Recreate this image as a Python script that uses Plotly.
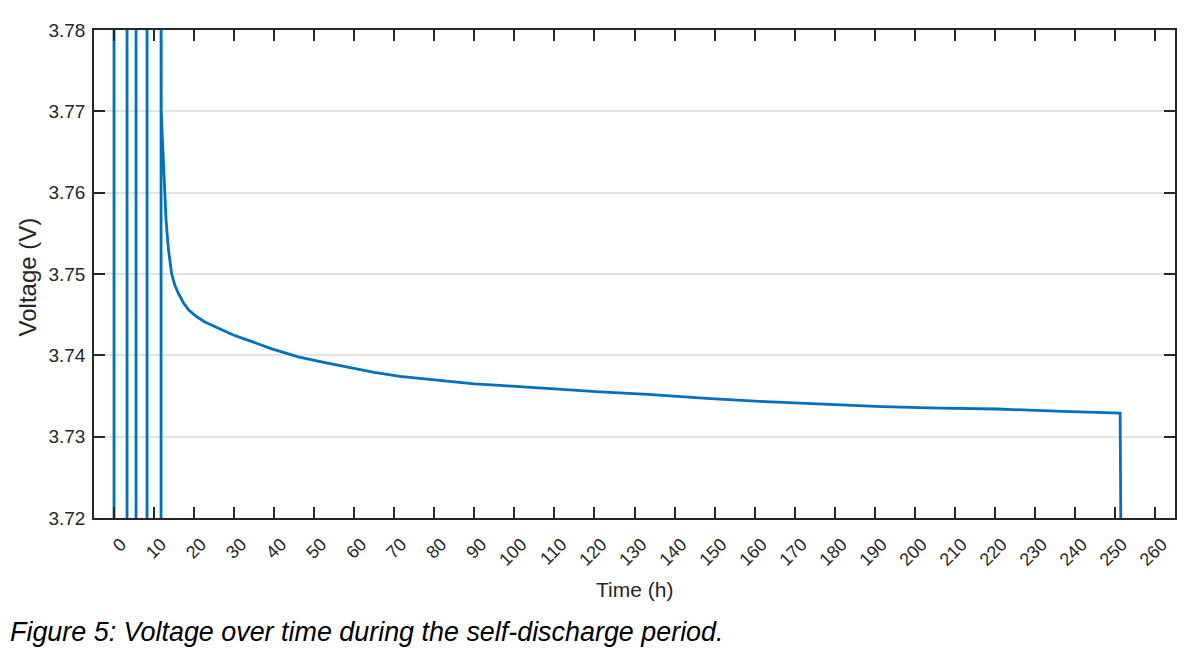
import plotly.graph_objects as go

# Pulse phase (vertical excursions beyond the axis range)
t_pulse = [0, 0, 3.25, 3.25, 5.5, 5.5, 8.25, 8.25, 11.75, 11.75]
v_pulse = [3.70, 3.80, 3.80, 3.70, 3.70, 3.80, 3.80, 3.70, 3.70, 3.80]

# Relaxation / self-discharge phase
t_rest = [11.8, 12.0, 12.3, 12.6, 13.0, 13.6, 14.4, 15.2, 16.1, 17.3, 18.6, 20.5,
          22.7, 24.8, 26.9, 29.8, 32.7, 36.0, 39.4, 42.7, 46.0, 52.7, 59.0, 65.0,
          71.4, 77.5, 83.9, 90.0, 96.4, 102.5, 108.9, 115.0, 121.4, 133.4, 148.0,
          162.6, 177.0, 191.7, 206.3, 220.5, 237.0, 251.3, 251.7]
v_rest = [3.7700, 3.7675, 3.7649, 3.7610, 3.7566, 3.7530, 3.7500, 3.7486, 3.7476,
          3.7465, 3.7456, 3.7448, 3.7441, 3.7436, 3.7431, 3.7425, 3.7420, 3.7414,
          3.7408, 3.7403, 3.7398, 3.7391, 3.7385, 3.7379, 3.7374, 3.7371, 3.7368,
          3.7365, 3.7363, 3.7361, 3.7359, 3.7357, 3.7355, 3.7352, 3.7347, 3.7343,
          3.7340, 3.7337, 3.7335, 3.7334, 3.7331, 3.7329, 3.7000]

x_ticks = list(range(0, 261, 10))
y_ticks = [3.72, 3.73, 3.74, 3.75, 3.76, 3.77, 3.78]

color = "#0072BD"
axis_col = "#262626"
FONT = "Liberation Sans, Arial, sans-serif"

fig = go.Figure()
fig.add_trace(go.Scatter(x=t_pulse + t_rest, y=v_pulse + v_rest, mode="lines",
                         line=dict(color=color, width=2.8), showlegend=False))

fig.update_layout(
    width=1200, height=669,
    margin=dict(l=86, r=33, t=22, b=159),
    paper_bgcolor="white", plot_bgcolor="white",
    font=dict(family=FONT, color=axis_col),
)
fig.update_xaxes(
    range=[-5, 265], tickvals=x_ticks, ticktext=[str(v) for v in x_ticks],
    tickangle=-45, ticks="inside", ticklen=11, tickwidth=1.5, tickcolor=axis_col,
    showline=True, linecolor=axis_col, linewidth=1.5, mirror="ticks",
    showgrid=False, zeroline=False, automargin=False,
    ticklabelstandoff=7, ticklabelshift=7,
    tickfont=dict(size=18, color=axis_col, family=FONT),
)
fig.update_yaxes(
    range=[3.72, 3.78], tickvals=y_ticks, ticktext=[f"{v:.2f}" for v in y_ticks],
    ticks="inside", ticklen=11, tickwidth=1.5, tickcolor=axis_col,
    showline=True, linecolor=axis_col, linewidth=1.5, mirror="ticks",
    showgrid=True, gridcolor="#e3e3e3", gridwidth=1.5, zeroline=False,
    automargin=False, ticklabelstandoff=3,
    tickfont=dict(size=19, color=axis_col, family=FONT),
)
fig.add_annotation(text="Time (h)", xref="paper", yref="paper", x=0.5, y=-0.1475,
                   xanchor="center", yanchor="middle", showarrow=False,
                   font=dict(size=21, color=axis_col, family=FONT))
fig.add_annotation(text="Voltage (V)", xref="paper", yref="paper", x=-0.062, y=0.495,
                   xanchor="center", yanchor="middle", textangle=-90, showarrow=False,
                   font=dict(size=24, color=axis_col, family=FONT))
fig.add_annotation(
    text="<i>Figure 5: Voltage over time during the self-discharge period.</i>",
    xref="paper", yref="paper", x=-0.0796, y=-0.2336, xanchor="left", yanchor="middle",
    showarrow=False, font=dict(size=26.9, color="black", family=FONT),
)
fig.write_html("out.html")
